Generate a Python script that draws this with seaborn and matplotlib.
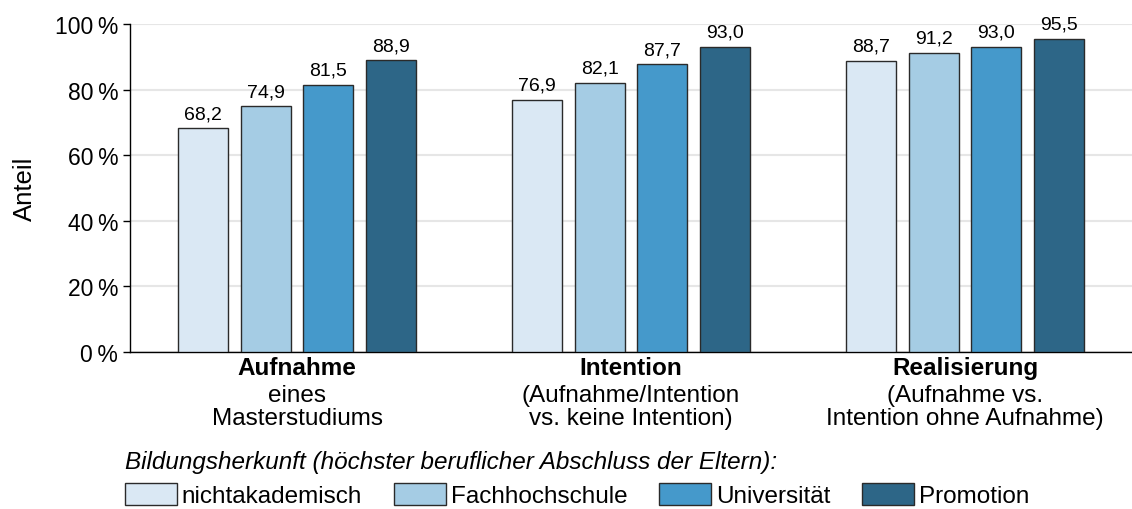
import pandas as pd
import matplotlib.pyplot as plt
import seaborn as sns

# data
kategorien = ["Aufnahme", "Intention", "Realisierung"]
untertitel = [["eines", "Masterstudiums"],
              ["(Aufnahme/Intention", "vs. keine Intention)"],
              ["(Aufnahme vs.", "Intention ohne Aufnahme)"]]
herkunft = ["nichtakademisch", "Fachhochschule", "Universität", "Promotion"]
nichtakademisch = [68.2, 76.9, 88.7]
fachhochschule = [74.9, 82.1, 91.2]
universitaet = [81.5, 87.7, 93.0]
promotion = [88.9, 93.0, 95.5]
farben = ["#dae8f4", "#a5cce4", "#4599cb", "#2d6687"]
y_ticks = [0, 20, 40, 60, 80, 100]

werte = [nichtakademisch, fachhochschule, universitaet, promotion]
rows = []
for h, vals in zip(herkunft, werte):
    for k, v in zip(kategorien, vals):
        rows.append({"kategorie": k, "herkunft": h, "anteil": v})
df = pd.DataFrame(rows)

sns.set_style("white")
plt.rcParams["font.family"] = ["Liberation Sans", "DejaVu Sans"]
plt.rcParams["text.color"] = "black"
plt.rcParams["axes.labelcolor"] = "black"
plt.rcParams["ytick.color"] = "black"
plt.rcParams["xtick.color"] = "black"

W, H = 1132, 510
fig = plt.figure(figsize=(W / 100, H / 100), dpi=100)
# axes: x 130..1132 px, y 25..353 px
ax = fig.add_axes([130 / W, 1 - 353 / H, 1 - 130 / W, 328 / H])

sns.barplot(data=df, x="kategorie", y="anteil", hue="herkunft",
            order=kategorien, hue_order=herkunft, palette=farben,
            saturation=1, width=0.75, gap=0.2, edgecolor="#2a2a2a",
            linewidth=1.0, errorbar=None, ax=ax, zorder=3)

for cont in ax.containers:
    ax.bar_label(cont, labels=[f"{b.get_height():.1f}".replace(".", ",") for b in cont],
                 padding=4.5, fontsize=14)

ax.set_xlim(-0.5, 2.5)
ax.set_ylim(0, 100)
ax.set_yticks(y_ticks)
ax.set_yticklabels([f"{t}\u2009%" for t in y_ticks], fontsize=16.5)
ax.yaxis.grid(True, color="#e6e6e6", linewidth=1.5, zorder=0)
ax.tick_params(axis="y", left=True, length=5, width=1, color="black", pad=3.5)
ax.set_ylabel("Anteil", fontsize=18.5)
ax.yaxis.set_label_coords(-0.093, 0.5)
ax.set_xlabel("")
ax.set_xticks(range(len(kategorien)))
ax.set_xticklabels([])
ax.tick_params(axis="x", bottom=False)
sns.despine(ax=ax, top=True, right=True)
for s in ["left", "bottom"]:
    ax.spines[s].set_color("black")
    ax.spines[s].set_linewidth(1)

# group labels: bold title + two normal lines (baselines in px)
trans = ax.get_xaxis_transform()
def px_to_axes(y_px):
    return -(y_px - 353) / 328

for i, (k, zeilen) in enumerate(zip(kategorien, untertitel)):
    ax.text(i, px_to_axes(375), k, transform=trans, ha="center", va="baseline",
            fontsize=17.5, fontweight="bold")
    for j, z in enumerate(zeilen):
        ax.text(i, px_to_axes(402 + j * 23.5), z, transform=trans, ha="center",
                va="baseline", fontsize=17.5)

handles, labels = ax.get_legend_handles_labels()
ax.get_legend().remove()
leg = fig.legend(handles, labels, ncol=4, loc="upper left",
                 bbox_to_anchor=(108 / W, 1 - 434 / H), frameon=False,
                 title="Bildungsherkunft (höchster beruflicher Abschluss der Eltern):",
                 title_fontproperties={"style": "italic", "size": 17.5},
                 alignment="left", fontsize=17.5, handlelength=2.14,
                 handleheight=1.0, handletextpad=0.2, columnspacing=1.3,
                 borderpad=0.2, labelspacing=0.42)
for hnd in leg.legend_handles:
    hnd.set_edgecolor("#2a2a2a")

fig.savefig("out.png", dpi=100)
